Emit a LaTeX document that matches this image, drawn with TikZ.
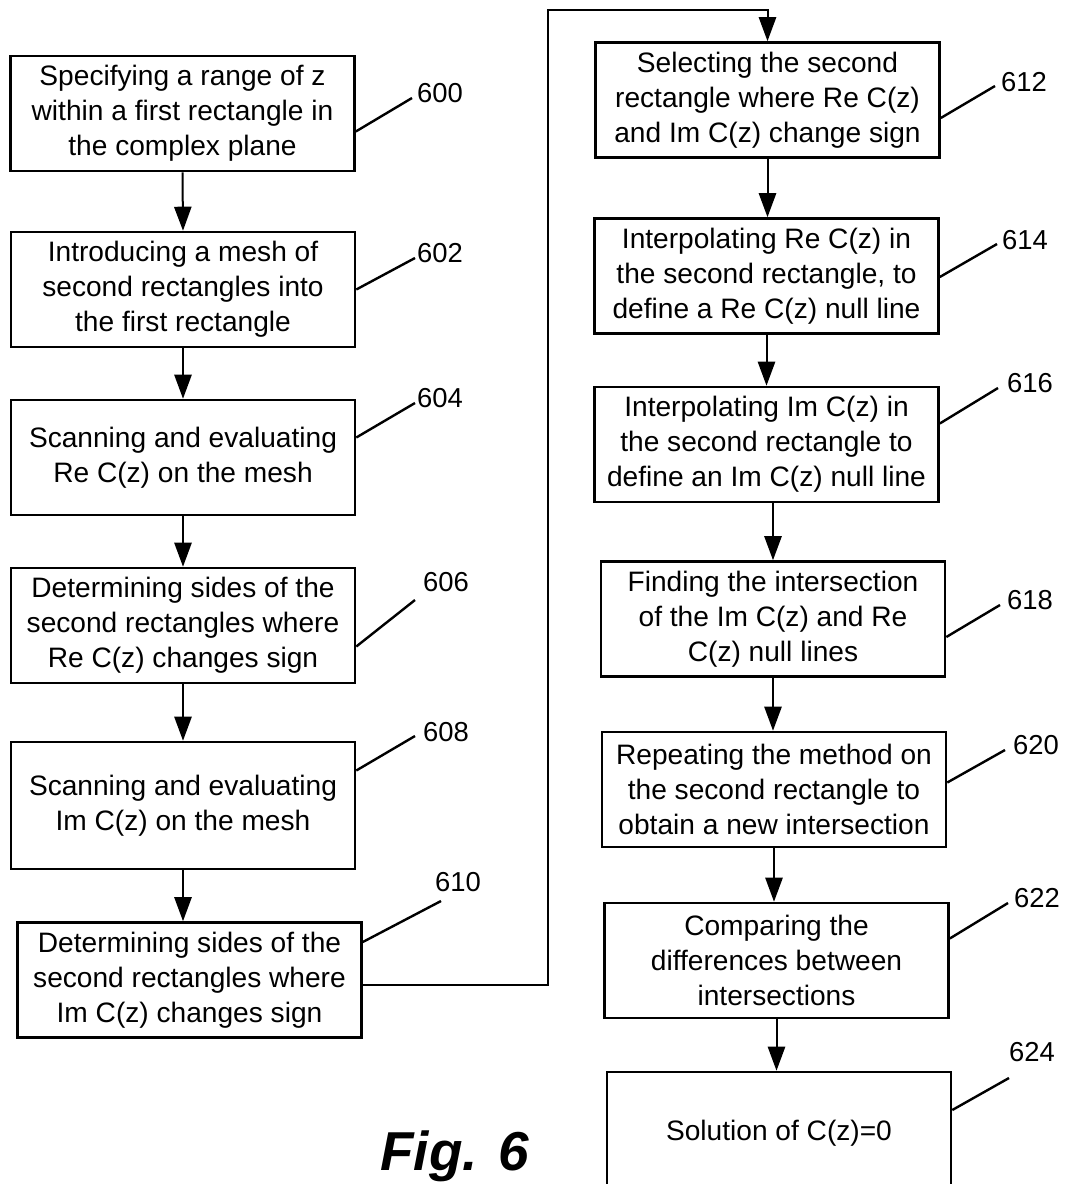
\documentclass[tikz,border=0pt]{standalone}
\usepackage{fontspec}
\setmainfont{Liberation Sans}
\usetikzlibrary{arrows.meta}
\usetikzlibrary{calc}

\begin{document}
\begin{tikzpicture}[x=0.25mm,y=-0.25mm,
  box/.style={draw, line width=0.65mm, align=center, inner sep=0pt,
    minimum width=86mm, minimum height=28.75mm,
    font=\fontsize{20}{24.9}\selectfont},
  num/.style={inner sep=0pt, font=\fontsize{19.5}{24}\selectfont},
  arr/.style={line width=0.5mm, -{Triangle[length=6mm,width=4.3mm]}},
  leader/.style={line width=0.6mm}]

\useasboundingbox (0,0) rectangle (1066,1184);
\clip (0,0) rectangle (1066,1184);

% left column
\node[box] (b600) at (182.5,113.5) {Specifying a range of z\\within a first rectangle in\\the complex plane};
\node[box] (b602) at (183,289.5) {Introducing a mesh of\\second rectangles into\\the first rectangle};
\node[box] (b604) at (183,457.5) {Scanning and evaluating\\Re C(z) on the mesh};
\node[box] (b606) at (183,625.5) {Determining sides of the\\second rectangles where\\Re C(z) changes sign};
\node[box, minimum height=31.75mm] (b608) at (183,805.5) {Scanning and evaluating\\Im C(z) on the mesh};
\node[box] (b610) at (189.5,980) {Determining sides of the\\second rectangles where\\Im C(z) changes sign};

% right column
\node[box] (b612) at (767.5,100) {Selecting the second\\rectangle where Re C(z)\\and Im C(z) change sign};
\node[box] (b614) at (766.5,276) {Interpolating Re C(z) in\\the second rectangle, to\\define a Re C(z) null line};
\node[box] (b616) at (766.5,444.5) {Interpolating Im C(z) in\\the second rectangle to\\define an Im C(z) null line};
\node[box] (b618) at (773,619) {Finding the intersection\\of the Im C(z) and Re\\C(z) null lines};
\node[box] (b620) at (774,789.5) {Repeating the method on\\the second rectangle to\\obtain a new intersection};
\node[box] (b622) at (776.5,960.5) {Comparing the\\differences between\\intersections};
\node[box, minimum height=30.5mm] (b624) at (779,1133) {Solution of C(z)=0};

% flow
\draw[arr] (b600.south) -- (b602.north);
\draw[arr] (b602.south) -- (b604.north);
\draw[arr] (b604.south) -- (b606.north);
\draw[arr] (b606.south) -- (b608.north);
\draw[arr] (b608.south) -- (b608.south |- b610.north);
\coordinate (turn) at (548,10);
\draw[arr] ($(b610.east)+(0,5)$) -| (turn) -| (b612.north);
\draw[arr] (b612.south) -- (b612.south |- b614.north);
\draw[arr] (b614.south) -- (b616.north);
\draw[arr] (b618.north |- b616.south) -- (b618.north);
\draw[arr] (b618.south) -- (b618.south |- b620.north);
\draw[arr] (b620.south) -- (b620.south |- b622.north);
\draw[arr] (b622.south) -- (b622.south |- b624.north);

% reference numerals
\foreach \n/\dy/\ex/\ey/\lx/\ly in {600/18/412/98/440/93, 602/0/415/258/440/253,
    604/-20/415/403/440/398, 606/21/415/600/446/582, 608/-35/415/736/446/732,
    610/-38/441/901/458/882, 612/18/995/86/1024/82, 614/1/997/244/1025/240,
    616/-21/998/388/1030/383, 618/18/1000/605/1030/600, 620/-7/1005/750/1036/745,
    622/-22/1008/903/1037/898, 624/-23/1009/1078/1032/1052}{
  \node[num] (l\n) at (\lx,\ly) {\n};
  \draw[leader] ($(b\n.east)+(0,\dy)$) -- (\ex,\ey);
}

\node[anchor=base west, inner sep=0pt, font=\fontsize{39}{39}\selectfont\bfseries\itshape] (fig) at (380,1170) {Fig. 6};

\end{tikzpicture}
\end{document}
